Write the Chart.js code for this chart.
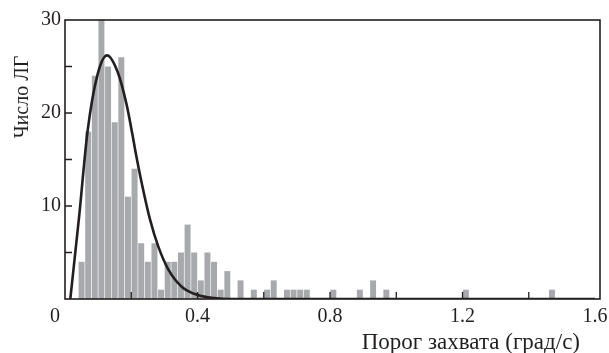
<!DOCTYPE html>
<html>
<head>
<meta charset="utf-8">
<script src="https://cdn.jsdelivr.net/npm/chart.js@4/dist/chart.umd.min.js"></script>
<style>
  html, body { margin: 0; padding: 0; background: #ffffff; }
  #wrap { width: 609px; height: 353px; position: relative; }
</style>
</head>
<body>
<div id="wrap"><canvas id="c" width="609" height="353"></canvas></div>
<script>
// Histogram bins (bin centres, width 0.02 deg/s) and counts
const binCenters = [0.05, 0.07, 0.09, 0.11, 0.13, 0.15, 0.17, 0.19, 0.21, 0.23,
                    0.25, 0.27, 0.29, 0.31, 0.33, 0.35, 0.37, 0.39, 0.41, 0.43,
                    0.45, 0.47, 0.49, 0.53, 0.57, 0.61, 0.63, 0.67, 0.69, 0.71,
                    0.73, 0.81, 0.89, 0.93, 0.97, 1.21, 1.47];
const binCounts  = [4, 18, 24, 30, 25, 19, 26, 11, 14, 6,
                    4, 6, 1, 4, 4, 5, 8, 5, 2, 5,
                    4, 1, 3, 2, 1, 1, 2, 1, 1, 1,
                    1, 1, 1, 2, 1, 1, 1];
// Fitted distribution curve
const curveX = [0.016, 0.043, 0.068, 0.098, 0.127, 0.159, 0.186, 0.204, 0.212, 0.232,
                0.257, 0.282, 0.313, 0.353, 0.403, 0.45, 0.5, 0.7, 1.0, 1.3, 1.6];
const curveY = [0, 9.0, 18, 24.1, 26.2, 24.4, 20.9, 17.6, 16.0, 12.4,
                8.5, 5.6, 3.1, 1.3, 0.4, 0.1, 0, 0, 0, 0, 0];
// Axis ticks
const xMajorTicks = [0, 0.4, 0.8, 1.2, 1.6];
const xMinorTicks = [0.2, 0.4, 0.6, 0.8, 1.0, 1.2, 1.4];
const yMajorTicks = [10, 20, 30];
const yMinorTicks = [5, 10, 15, 20, 25];
const xTitle = 'Порог захвата (град/с)';
const yTitle = 'Число ЛГ';

const INK = '#231f20';
const FONT = '"Liberation Serif", "Times New Roman", serif';

const framePlugin = {
  id: 'frame',
  afterDatasetsDraw(chart) {
    const { ctx, chartArea: a, scales } = chart;
    const xs = scales.x, ys = scales.y;
    ctx.save();
    ctx.strokeStyle = INK;
    ctx.lineWidth = 1.6;
    ctx.strokeRect(a.left, a.top, a.right - a.left, a.bottom - a.top);
    ctx.lineWidth = 1.3;
    ctx.beginPath();
    xMinorTicks.forEach(v => {
      const px = xs.getPixelForValue(v);
      ctx.moveTo(px, a.bottom);
      ctx.lineTo(px, a.bottom - 7);
    });
    yMinorTicks.forEach(v => {
      const py = ys.getPixelForValue(v);
      ctx.moveTo(a.left, py);
      ctx.lineTo(a.left + 7, py);
    });
    ctx.stroke();
    ctx.restore();
  },
  afterDraw(chart) {
    const { ctx, chartArea: a } = chart;
    ctx.save();
    ctx.fillStyle = INK;
    ctx.font = '23px ' + FONT;
    ctx.textAlign = 'right';
    ctx.textBaseline = 'alphabetic';
    ctx.fillText(xTitle, a.right - 20, 349);
    ctx.font = '20px ' + FONT;
    ctx.translate(28, a.top + 77);
    ctx.rotate(-Math.PI / 2);
    ctx.textAlign = 'center';
    ctx.fillText(yTitle, 0, 0);
    ctx.restore();
  }
};

new Chart(document.getElementById('c'), {
  type: 'bar',
  data: {
    datasets: [
      {
        type: 'line',
        data: curveX.map((x, i) => ({ x, y: curveY[i] })),
        borderColor: INK,
        borderWidth: 2.6,
        pointRadius: 0,
        fill: false,
        cubicInterpolationMode: 'monotone',
        order: 0
      },
      {
        type: 'bar',
        data: binCenters.map((x, i) => ({ x, y: binCounts[i] })),
        backgroundColor: '#a7a9ac',
        borderWidth: 0,
        barPercentage: 0.9,
        categoryPercentage: 1.0,
        order: 1
      }
    ]
  },
  options: {
    responsive: false,
    animation: false,
    devicePixelRatio: 1,
    layout: { padding: { top: 20, right: 9, left: 0, bottom: 0 } },
    plugins: { legend: { display: false }, tooltip: { enabled: false } },
    scales: {
      x: {
        type: 'linear',
        min: 0,
        max: 1.615,
        offset: false,
        grid: { display: false, drawTicks: false },
        border: { display: false },
        afterBuildTicks: (s) => { s.ticks = xMajorTicks.map(v => ({ value: v })); },
        afterFit: (s) => { s.height = 54; s.paddingLeft = 0; s.paddingRight = 0; },
        ticks: {
          padding: 6,
          color: INK,
          font: { family: FONT, size: 20 },
          maxRotation: 0,
          autoSkip: false,
          callback: (v) => v === 0 ? '0\u2002\u2002' : String(v)
        }
      },
      y: {
        min: 0,
        max: 30,
        grid: { display: false, drawTicks: false },
        border: { display: false },
        afterBuildTicks: (s) => { s.ticks = [0].concat(yMajorTicks).map(v => ({ value: v })); },
        afterFit: (s) => { s.width = 65; s.paddingTop = 0; s.paddingBottom = 0; },
        ticks: {
          padding: 4,
          color: INK,
          font: { family: FONT, size: 20 },
          callback: (v) => v === 0 ? '' : String(v)
        }
      }
    }
  },
  plugins: [framePlugin]
});
</script>
</body>
</html>
